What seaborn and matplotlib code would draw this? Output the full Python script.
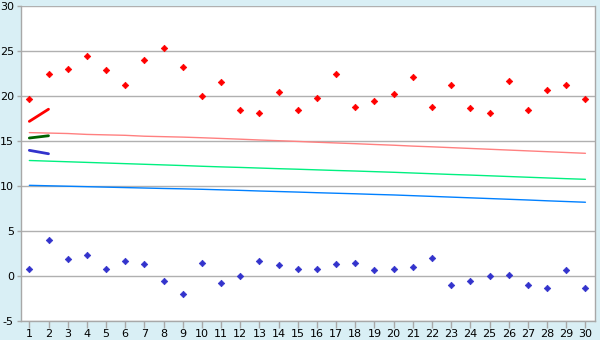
import matplotlib
matplotlib.use("Agg")
import matplotlib.pyplot as plt
import seaborn as sns
import pandas as pd
import numpy as np

days = list(range(1, 31))
max_temp = [19.6, 22.4, 23.0, 24.4, 22.9, 21.15, 24.0, 25.3, 23.15, 20.0,
            21.5, 18.4, 18.05, 20.4, 18.4, 19.7, 22.4, 18.8, 19.4, 20.15,
            22.05, 18.7, 21.15, 18.6, 18.05, 21.6, 18.4, 20.6, 21.15, 19.6]
min_temp = [0.7, 4.0, 1.9, 2.33, 0.78, 1.6, 1.33, -0.56, -2.0, 1.44,
            -0.78, 0.0, 1.67, 1.22, 0.78, 0.78, 1.33, 1.44, 0.67, 0.78,
            1.0, 2.0, -1.0, -0.56, 0.0, 0.11, -1.0, -1.33, 0.67, -1.33]
normal_max = [15.9, 15.85, 15.8, 15.7, 15.65, 15.6, 15.5, 15.45, 15.4, 15.33,
              15.25, 15.17, 15.08, 15.0, 14.92, 14.83, 14.75, 14.67, 14.58, 14.5,
              14.4, 14.32, 14.23, 14.14, 14.05, 13.96, 13.87, 13.78, 13.69, 13.6]
normal_mean = [12.8, 12.73, 12.66, 12.59, 12.52, 12.45, 12.38, 12.31, 12.24, 12.16,
               12.09, 12.03, 11.96, 11.89, 11.83, 11.76, 11.69, 11.63, 11.56, 11.49,
               11.41, 11.33, 11.25, 11.18, 11.1, 11.02, 10.94, 10.86, 10.78, 10.71]
normal_min = [10.04, 9.99, 9.94, 9.89, 9.84, 9.79, 9.74, 9.69, 9.65, 9.6,
              9.54, 9.48, 9.41, 9.35, 9.29, 9.22, 9.16, 9.1, 9.03, 8.97,
              8.89, 8.81, 8.73, 8.65, 8.57, 8.49, 8.41, 8.32, 8.24, 8.16]
run_days = [1, 2]
run_max = [17.15, 18.5]
run_mean = [15.3, 15.55]
run_min = [13.93, 13.55]

df = pd.DataFrame({"day": days, "max": max_temp, "min": min_temp,
                   "nmax": normal_max, "nmean": normal_mean, "nmin": normal_min})
rdf = pd.DataFrame({"day": run_days, "rmax": run_max, "rmean": run_mean, "rmin": run_min})

sns.set_theme(style="white")
plt.rcParams['font.family'] = ['DejaVu Sans']
plt.rcParams['axes.unicode_minus'] = False

bg = "#d9eff5"
fig = plt.figure(figsize=(6, 3.4), dpi=100, facecolor=bg)
ax = fig.add_axes([0.0345, 0.057, 0.9572, 0.926])
ax.set_facecolor("white")

ax.set_ylim(-5, 30)
ax.set_xlim(0.55, 30.5)
ax.set_yticks(range(-5, 31, 5))
ax.set_xticks(days)
ax.set_xticklabels([str(d) for d in days])
ax.yaxis.grid(True, color="#b0b0b0", linewidth=1.0)
ax.set_axisbelow(True)

for s in ["left", "right", "top", "bottom"]:
    ax.spines[s].set_color("#a8a8a8")
    ax.spines[s].set_linewidth(1.0)
ax.spines["top"].set_visible(False)

sns.lineplot(data=df, x="day", y="nmax", ax=ax, color="#ff8080", linewidth=1.0)
sns.lineplot(data=df, x="day", y="nmean", ax=ax, color="#00f080", linewidth=1.0)
sns.lineplot(data=df, x="day", y="nmin", ax=ax, color="#0080ff", linewidth=1.0)
sns.lineplot(data=rdf, x="day", y="rmax", ax=ax, color="#ff0000", linewidth=2.0)
sns.lineplot(data=rdf, x="day", y="rmean", ax=ax, color="#006400", linewidth=2.0)
sns.lineplot(data=rdf, x="day", y="rmin", ax=ax, color="#3333cc", linewidth=2.0)

sns.scatterplot(data=df, x="day", y="max", ax=ax, color="#ff0000", marker="D",
                s=11, edgecolor="#ff0000", linewidth=0.5, zorder=5)
sns.scatterplot(data=df, x="day", y="min", ax=ax, color="#3333cc", marker="D",
                s=11, edgecolor="#3333cc", linewidth=0.5, zorder=5)

ax.set_xlabel("")
ax.set_ylabel("")
ax.tick_params(axis="both", which="both", length=3, width=1, color="#a8a8a8",
               labelsize=8, labelcolor="black", pad=2)
ax.tick_params(axis="x", length=5, pad=1)
ax.tick_params(axis="y", left=True)
ax.tick_params(axis="x", bottom=True)

fig.savefig("out.png", dpi=100, facecolor=bg)
